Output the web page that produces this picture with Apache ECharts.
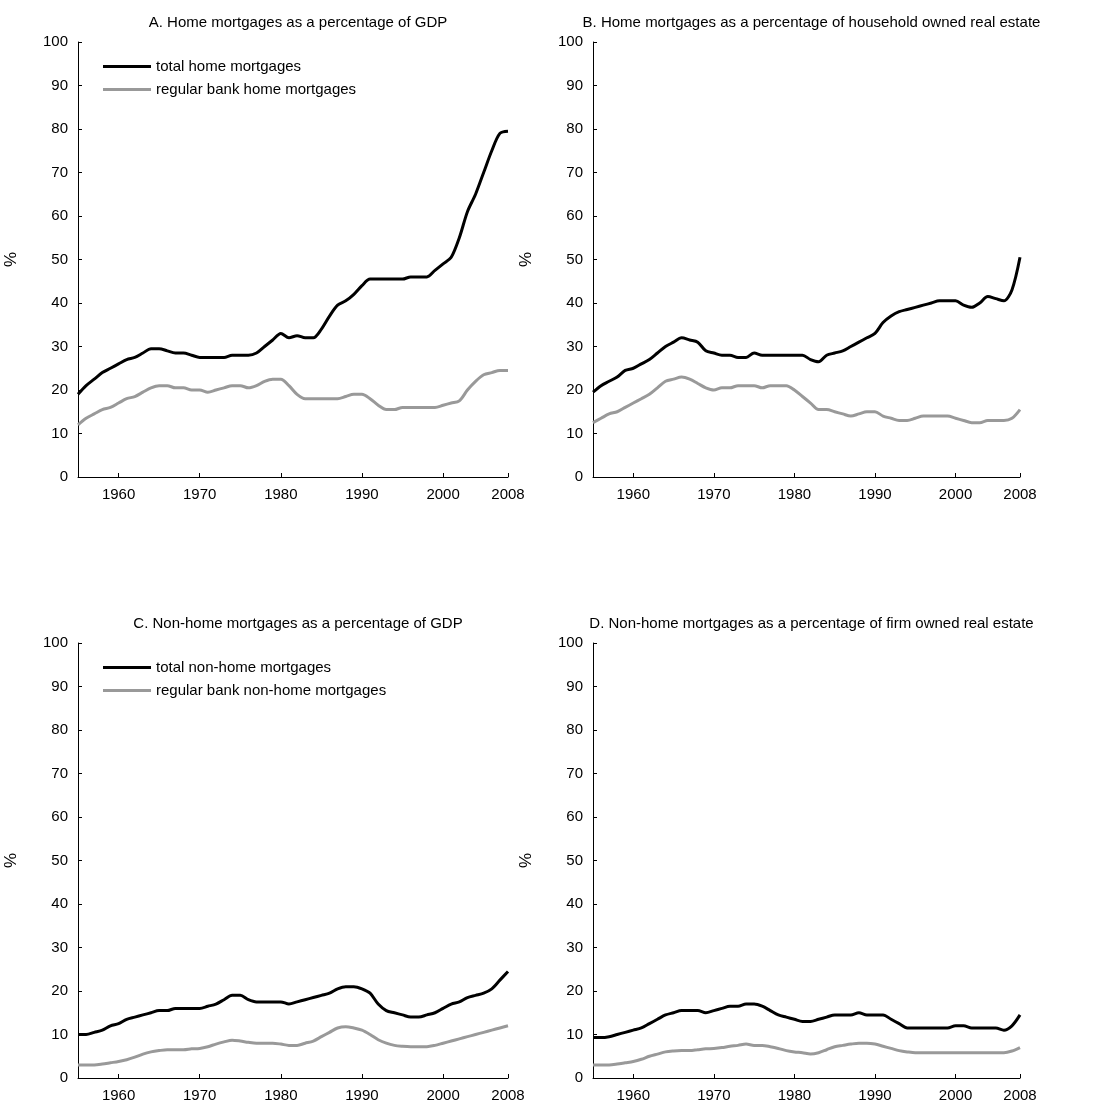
<!DOCTYPE html>
<html>
<head>
<meta charset="utf-8">
<script src="https://cdn.jsdelivr.net/npm/echarts@6/dist/echarts.min.js"></script>
<style>html,body{margin:0;padding:0;background:#fff}#main{width:1112px;height:1115px}</style>
</head>
<body>
<div id="main"></div>
<script>
// years 1955..2008, annual readings
var years = [];
for (var y = 1955; y <= 2008; y++) years.push(y);
var xTicks = [1960, 1970, 1980, 1990, 2000, 2008];

var aTotal = [19,21,22.5,24,25,26,27,27.5,28.5,29.5,29.5,29,28.5,28.5,28,27.5,27.5,27.5,27.5,28,28,28,28.5,30,31.5,33,32,32.5,32,32,34,37,39.5,40.5,42,44,45.5,45.5,45.5,45.5,45.5,46,46,46,47.5,49,50.5,55,61,65,70,75,79,79.5];
var aBank = [12,13.5,14.5,15.5,16,17,18,18.5,19.5,20.5,21,21,20.5,20.5,20,20,19.5,20,20.5,21,21,20.5,21,22,22.5,22.5,21,19,18,18,18,18,18,18.5,19,19,18,16.5,15.5,15.5,16,16,16,16,16,16.5,17,17.5,20,22,23.5,24,24.5,24.5];
var bTotal = [19.5,21,22,23,24.5,25,26,27,28.5,30,31,32,31.5,31,29,28.5,28,28,27.5,27.5,28.5,28,28,28,28,28,28,27,26.5,28,28.5,29,30,31,32,33,35.5,37,38,38.5,39,39.5,40,40.5,40.5,40.5,39.5,39,40,41.5,41,40.5,43,50.5];
var bBank = [12.5,13.5,14.5,15,16,17,18,19,20.5,22,22.5,23,22.5,21.5,20.5,20,20.5,20.5,21,21,21,20.5,21,21,21,20,18.5,17,15.5,15.5,15,14.5,14,14.5,15,15,14,13.5,13,13,13.5,14,14,14,14,13.5,13,12.5,12.5,13,13,13,13.5,15.5];
var cTotal = [10,10,10.5,11,12,12.5,13.5,14,14.5,15,15.5,15.5,16,16,16,16,16.5,17,18,19,19,18,17.5,17.5,17.5,17.5,17,17.5,18,18.5,19,19.5,20.5,21,21,20.5,19.5,17,15.5,15,14.5,14,14,14.5,15,16,17,17.5,18.5,19,19.5,20.5,22.5,24.5];
var cBank = [3,3,3,3.2,3.5,3.8,4.2,4.8,5.5,6,6.3,6.5,6.5,6.5,6.7,6.8,7.2,7.8,8.3,8.7,8.5,8.2,8,8,8,7.8,7.5,7.5,8,8.5,9.5,10.5,11.5,11.8,11.5,11,10,8.8,8,7.5,7.3,7.2,7.2,7.2,7.5,8,8.5,9,9.5,10,10.5,11,11.5,12];
var dTotal = [9.3,9.3,9.5,10,10.5,11,11.5,12.5,13.5,14.5,15,15.5,15.5,15.5,15,15.5,16,16.5,16.5,17,17,16.5,15.5,14.5,14,13.5,13,13,13.5,14,14.5,14.5,14.5,15,14.5,14.5,14.5,13.5,12.5,11.5,11.5,11.5,11.5,11.5,11.5,12,12,11.5,11.5,11.5,11.5,11,12,14.5];
var dBank = [3,3,3,3.2,3.5,3.8,4.3,5,5.5,6,6.2,6.3,6.3,6.5,6.7,6.8,7,7.3,7.5,7.8,7.5,7.5,7.2,6.8,6.3,6,5.8,5.5,5.8,6.5,7.2,7.5,7.8,8,8,7.8,7.3,6.8,6.3,6,5.8,5.8,5.8,5.8,5.8,5.8,5.8,5.8,5.8,5.8,5.8,5.8,6.2,7];

var titles = [
    'A. Home mortgages as a percentage of GDP',
    'B. Home mortgages as a percentage of household owned real estate',
    'C. Non-home mortgages as a percentage of GDP',
    'D. Non-home mortgages as a percentage of firm owned real estate'
];
var panelData = [[aTotal, aBank], [bTotal, bBank], [cTotal, cBank], [dTotal, dBank]];
var legendNames = [
    ['total home mortgages', 'regular bank home mortgages'],
    ['total non-home mortgages', 'regular bank non-home mortgages']
];

var FONT = 'Liberation Sans, Arial, sans-serif';
var grids = [
    { left: 78, top: 42, width: 430, height: 435 },
    { left: 593, top: 42, width: 427, height: 435 },
    { left: 78, top: 643, width: 430, height: 435 },
    { left: 593, top: 643, width: 427, height: 435 }
];

function pairs(arr) {
    return arr.map(function (v, i) { return [years[i], v]; });
}

var option = {
    animation: false,
    textStyle: { fontFamily: FONT },
    title: grids.map(function (g, i) {
        return {
            text: titles[i], left: g.left + g.width / 2, top: g.top - 32, textAlign: 'center',
            textStyle: { fontSize: 15, fontWeight: 'normal', color: '#000', fontFamily: FONT }
        };
    }),
    legend: [0, 2].map(function (gi, k) {
        return {
            orient: 'vertical', left: grids[gi].left + 20, top: grids[gi].top + 12,
            itemWidth: 48, itemHeight: 3, itemGap: 8, icon: 'rect',
            textStyle: { fontSize: 15, color: '#000', fontFamily: FONT },
            data: legendNames[k]
        };
    }),
    grid: grids,
    xAxis: grids.map(function (g, i) {
        return {
            type: 'value', gridIndex: i, min: 1955, max: 2008,
            axisLine: { lineStyle: { color: '#000' } },
            axisTick: { inside: true, length: 4, customValues: xTicks, lineStyle: { color: '#000' } },
            axisLabel: { customValues: xTicks, fontSize: 15, color: '#000', margin: 10,
                formatter: function (v) { return String(v); } },
            splitLine: { show: false }
        };
    }),
    yAxis: grids.map(function (g, i) {
        return {
            type: 'value', gridIndex: i, min: 0, max: 100, interval: 10,
            name: '%', nameLocation: 'middle', nameGap: 58, nameRotate: 90,
            nameTextStyle: { fontSize: 17, color: '#000' },
            axisLine: { show: true, lineStyle: { color: '#000' } },
            axisTick: { inside: true, length: 4, lineStyle: { color: '#000' } },
            axisLabel: { fontSize: 15, color: '#000', margin: 10 },
            splitLine: { show: false }
        };
    }),
    series: []
};

panelData.forEach(function (pd, i) {
    var names = legendNames[i < 2 ? 0 : 1];
    option.series.push({
        type: 'line', name: names[0], xAxisIndex: i, yAxisIndex: i, data: pairs(pd[0]),
        showSymbol: false, smooth: 0.3, color: '#000', lineStyle: { width: 3, color: '#000' }
    });
    option.series.push({
        type: 'line', name: names[1], xAxisIndex: i, yAxisIndex: i, data: pairs(pd[1]),
        showSymbol: false, smooth: 0.3, color: '#999', lineStyle: { width: 3, color: '#999' }
    });
});

var chart = echarts.init(document.getElementById('main'));
chart.setOption(option);
</script>
</body>
</html>
